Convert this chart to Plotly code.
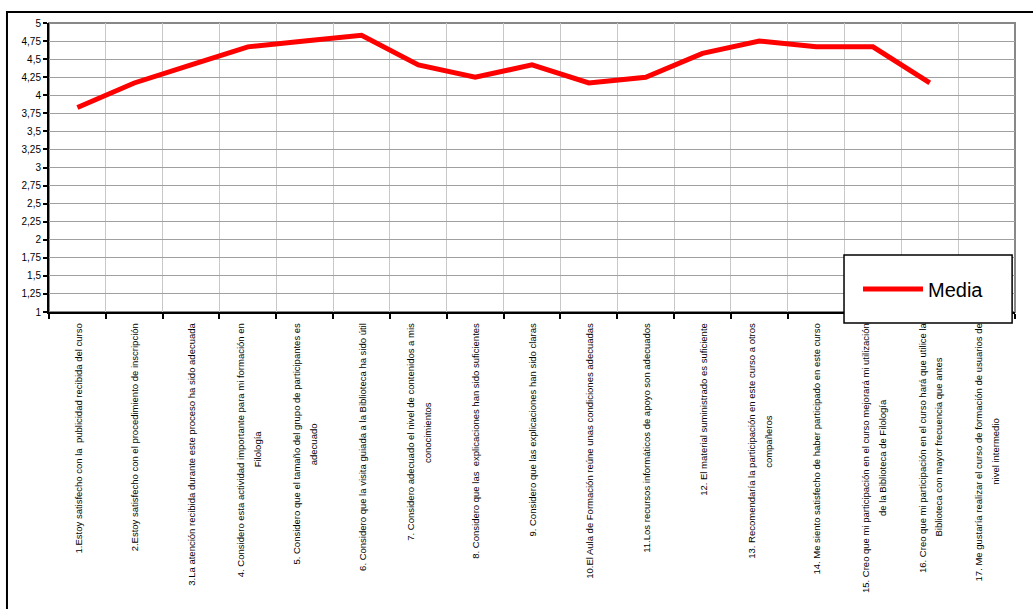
import plotly.graph_objects as go

# ---------------- data ----------------
label_lines = [
    ["1.Estoy satisfecho con la \u00a0publicidad recibida del curso"],
    ["2.Estoy satisfecho con el procedimiento de inscripción"],
    ["3.La atención recibida durante este proceso ha sido adecuada"],
    ["4. Considero esta actividad importante para mi formación en", "Filología"],
    ["5. Considero que el tamaño del grupo de participantes es", "adecuado"],
    ["6. Considero que la visita guiada a la Biblioteca ha sido útil"],
    ["7. Considero adecuado el nivel de contenidos a mis", "conocimientos"],
    ["8. Considero que las \u00a0explicaciones han sido suficientes"],
    ["9. Considero que las explicaciones han sido claras"],
    ["10.El Aula de Formación reúne unas condiciones adecuadas"],
    ["11.Los recursos informáticos de apoyo son adecuados"],
    ["12. El material suministrado es suficiente"],
    ["13. Recomendaría la participación en este curso a otros", "compañeros"],
    ["14. Me siento satisfecho de haber participado en este curso"],
    ["15. Creo que mi participación en el curso mejorará mi utilización", "de la Biblioteca de Filología"],
    ["16. Creo que mi participación en el curso hará que utilice la", "Biblioteca con mayor frecuencia que antes"],
    ["17. Me gustaría realizar el curso de formación de usuarios de", "nivel intermedio"],
]
categories = [" ".join(l) for l in label_lines]
media = [3.83, 4.17, 4.42, 4.67, 4.75, 4.83, 4.42, 4.25, 4.42, 4.17,
         4.25, 4.58, 4.75, 4.67, 4.67, 4.17, None]
series_name = "Media"
ytick_values = [1, 1.25, 1.5, 1.75, 2, 2.25, 2.5, 2.75, 3, 3.25, 3.5, 3.75,
                4, 4.25, 4.5, 4.75, 5]
ytick_labels = ["1", "1,25", "1,5", "1,75", "2", "2,25", "2,5", "2,75", "3",
                "3,25", "3,5", "3,75", "4", "4,25", "4,5", "4,75", "5"]

# ---------------- label formatting (centre second line) ----------------
W = {' ': .278, '\u00a0': .278, '.': .278, ',': .278, 'a': .556, 'b': .556, 'c': .5,
     'd': .556, 'e': .556, 'f': .278, 'g': .556, 'h': .556, 'i': .222, 'j': .222,
     'k': .5, 'l': .222, 'm': .833, 'n': .556, 'o': .556, 'p': .556, 'q': .556,
     'r': .333, 's': .5, 't': .278, 'u': .556, 'v': .5, 'w': .722, 'x': .5,
     'y': .5, 'z': .5, 'á': .556, 'é': .556, 'í': .278, 'ó': .556, 'ú': .556,
     'ñ': .556, 'A': .667, 'B': .667, 'C': .722, 'E': .667, 'F': .611, 'L': .556,
     'M': .833, 'R': .722}


def tw(s):
    return sum(W.get(ch, .556) for ch in s)


def fmt(lines):
    sp = '<span style="font-size:9.5px">%s</span>'
    if len(lines) == 1:
        return sp % lines[0]
    pad = max(0, round((tw(lines[0]) - tw(lines[1])) / 2 / .278))
    return sp % lines[0] + "<br>" + sp % (lines[1] + "\u00a0" * pad)


tick_text = [fmt(l) for l in label_lines]

FONT = "Arial, Liberation Sans, sans-serif"

fig = go.Figure()
fig.add_trace(go.Scatter(
    x=categories, y=media, name=series_name, mode="lines",
    line=dict(color="#FF0000", width=5), connectgaps=False,
))

fig.update_layout(
    width=1033, height=609,
    margin=dict(l=49, r=18, t=23, b=297, autoexpand=False),
    paper_bgcolor="white", plot_bgcolor="white",
    font=dict(family=FONT, color="black", size=10),
    showlegend=True,
    legend=dict(
        x=0.8375, y=0.08, xanchor="left", yanchor="middle",
        bgcolor="rgba(0,0,0,0)", borderwidth=0,
        font=dict(family=FONT, size=20, color="black"),
        itemwidth=60,
    ),
    xaxis=dict(
        type="category", range=[-0.5, 16.5],
        tickvals=categories, ticktext=tick_text, tickangle=-90,
        tickfont=dict(family=FONT, size=13, color="black"),
        tickson="boundaries", ticks="outside", ticklen=5, tickwidth=1.5,
        tickcolor="black", ticklabelstandoff=4,
        showline=True, linecolor="black", linewidth=2,
        showgrid=True, gridcolor="#c8c8c8", gridwidth=1,
        automargin=False, zeroline=False,
    ),
    yaxis=dict(
        range=[1, 5], tickvals=ytick_values, ticktext=ytick_labels,
        tickfont=dict(family=FONT, size=10, color="black"),
        ticks="outside", ticklen=4, tickwidth=1.5, tickcolor="black",
        showline=True, linecolor="black", linewidth=2,
        showgrid=True, gridcolor="#a0a0a0", gridwidth=1,
        automargin=False, zeroline=False,
    ),
    shapes=[
        # plot-area border (grey, top/right visible)
        dict(type="rect", xref="paper", yref="paper", x0=0, x1=1, y0=0, y1=1,
             line=dict(color="#888888", width=2), layer="below"),
        # outer chart frame
        dict(type="rect", xref="paper", yref="paper", x0=-0.0435, x1=1.2,
             y0=-1.5, y1=1.038, line=dict(color="black", width=2),
             fillcolor="rgba(0,0,0,0)", layer="above"),
        # legend frame
        dict(type="rect", xref="paper", yref="paper", x0=0.823, x1=0.997,
             y0=-0.038, y1=0.197, line=dict(color="black", width=1.5),
             fillcolor="white", layer="above"),
    ],
)

fig.write_html("out.html", config={"displayModeBar": False},
               post_script="document.body.style.margin='0';document.body.style.overflow='hidden';")
